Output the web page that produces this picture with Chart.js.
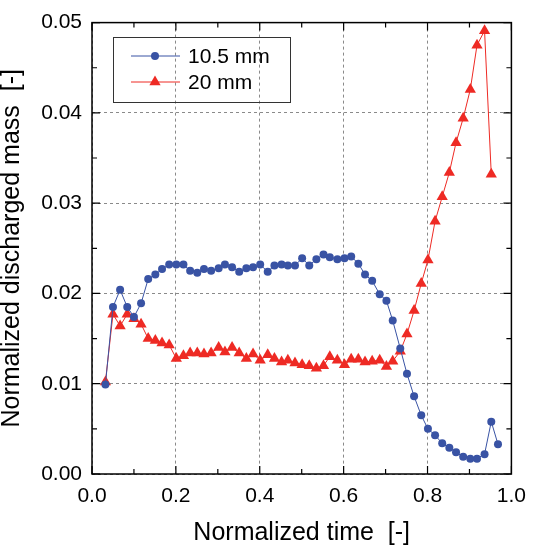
<!DOCTYPE html>
<html>
<head>
<meta charset="utf-8">
<script src="https://cdn.jsdelivr.net/npm/chart.js@4"></script>
<style>
  html, body { margin: 0; padding: 0; background: #fff; }
  #wrap { width: 536px; height: 547px; }
</style>
</head>
<body>
<div id="wrap"><canvas id="myChart" width="536" height="547"></canvas></div>
<script>
// normalized time of each sample (shared by both series)
var times = [0.032, 0.050, 0.067, 0.084, 0.100, 0.117, 0.134, 0.151, 0.167, 0.184,
             0.201, 0.218, 0.234, 0.251, 0.267, 0.284, 0.302, 0.317, 0.334, 0.351,
             0.368, 0.384, 0.401, 0.419, 0.435, 0.452, 0.467, 0.484, 0.501, 0.518,
             0.535, 0.552, 0.567, 0.585, 0.602, 0.618, 0.635, 0.651, 0.668, 0.686,
             0.702, 0.717, 0.735, 0.751, 0.768, 0.785, 0.801, 0.818, 0.835, 0.852,
             0.868, 0.885, 0.902, 0.918, 0.936, 0.952, 0.968];

var mass105 = [0.0099, 0.0185, 0.0204, 0.0185, 0.0174, 0.0189, 0.0216, 0.0221, 0.0227, 0.0232,
               0.0232, 0.0232, 0.0225, 0.0223, 0.0227, 0.0225, 0.0228, 0.0232, 0.0229, 0.0224,
               0.0228, 0.0229, 0.0232, 0.0224, 0.0231, 0.0232, 0.0231, 0.0231, 0.0239, 0.0231,
               0.0238, 0.0243, 0.0240, 0.0238, 0.0239, 0.0241, 0.0233, 0.0221, 0.0214, 0.0199,
               0.0192, 0.0170, 0.0139, 0.0111, 0.0086, 0.0065, 0.0050, 0.0043, 0.0034, 0.0029,
               0.0024, 0.0019, 0.0017, 0.0017, 0.0022, 0.0058, 0.0033];

var mass20 = [0.0102, 0.0177, 0.0164, 0.0177, 0.0172, 0.0166, 0.0150, 0.0148, 0.0145, 0.0143,
              0.0128, 0.0131, 0.0134, 0.0134, 0.0133, 0.0134, 0.0140, 0.0135, 0.0140, 0.0134,
              0.0128, 0.0133, 0.0126, 0.0132, 0.0128, 0.0124, 0.0126, 0.0123, 0.0121, 0.0120,
              0.0117, 0.0120, 0.0130, 0.0126, 0.0121, 0.0127, 0.0127, 0.0124, 0.0125, 0.0126,
              0.0119, 0.0125, 0.0136, 0.0155, 0.0181, 0.0211, 0.0237, 0.0280, 0.0307, 0.0334,
              0.0367, 0.0394, 0.0426, 0.0475, 0.0491, 0.0332];

var seriesLabels = ['10.5 mm', '20 mm'];
var xTicks = [0, 0.2, 0.4, 0.6, 0.8, 1.0];
var yTicks = [0, 0.01, 0.02, 0.03, 0.04, 0.05];

var BLUE = '#3953a4';
var RED = '#ee2a24';
var FONT = '"Liberation Sans", Arial, sans-serif';

function toPoints(xs, ys) {
    return ys.map(function (v, i) { return { x: xs[i], y: v }; });
}

// frame, inward ticks on all four sides, and the boxed legend
var framePlugin = {
    id: 'frame',
    afterDraw: function (chart) {
        var c = chart.ctx, a = chart.chartArea;
        var xs = chart.scales.x, ys = chart.scales.y;
        c.save();
        c.strokeStyle = '#000';
        c.lineWidth = 1.5;
        c.strokeRect(a.left, a.top, a.right - a.left, a.bottom - a.top);
        c.lineWidth = 1.2;
        c.beginPath();
        for (var t = 0; t <= 1.0001; t += 0.1) {
            var px = xs.getPixelForValue(t);
            var len = (Math.round(t * 10) % 2 === 0) ? 8 : 5;
            c.moveTo(px, a.bottom); c.lineTo(px, a.bottom - len);
            c.moveTo(px, a.top); c.lineTo(px, a.top + len);
        }
        for (var m = 0; m <= 0.05001; m += 0.005) {
            var py = ys.getPixelForValue(m);
            var len2 = (Math.round(m * 1000) % 10 === 0) ? 8 : 5;
            c.moveTo(a.left, py); c.lineTo(a.left + len2, py);
            c.moveTo(a.right, py); c.lineTo(a.right - len2, py);
        }
        c.stroke();

        // legend
        c.lineWidth = 1;
        c.strokeStyle = '#333';
        c.strokeRect(113.5, 37.5, 177, 65);
        var rows = [56, 82];
        chart.data.datasets.forEach(function (ds, i) {
            var y = rows[i];
            c.strokeStyle = ds.borderColor;
            c.lineWidth = 1;
            c.beginPath();
            c.moveTo(131, y); c.lineTo(180, y);
            c.stroke();
            c.fillStyle = ds.backgroundColor;
            c.beginPath();
            if (ds.pointStyle === 'triangle') {
                var r = 6.5;
                c.moveTo(155, y - r);
                c.lineTo(155 + r * 0.866, y + r * 0.5);
                c.lineTo(155 - r * 0.866, y + r * 0.5);
                c.closePath();
            } else {
                c.arc(155, y, 4, 0, Math.PI * 2);
            }
            c.fill();
            c.fillStyle = '#000';
            c.font = '21px ' + FONT;
            c.textBaseline = 'middle';
            c.textAlign = 'left';
            c.fillText(ds.label, 188, y + 1);
        });
        c.restore();
    }
};

var ctx = document.getElementById('myChart').getContext('2d');
var myChart = new Chart(ctx, {
    type: 'scatter',
    data: {
        datasets: [{
            label: seriesLabels[0],
            data: toPoints(times, mass105),
            showLine: true,
            borderColor: BLUE,
            backgroundColor: BLUE,
            borderWidth: 1,
            pointStyle: 'circle',
            pointRadius: 4,
            pointBorderWidth: 0
        }, {
            label: seriesLabels[1],
            data: toPoints(times, mass20),
            showLine: true,
            borderColor: RED,
            backgroundColor: RED,
            borderWidth: 1,
            pointStyle: 'triangle',
            pointRadius: 6.5,
            pointBorderWidth: 0
        }]
    },
    options: {
        responsive: false,
        animation: false,
        layout: { padding: { top: 20, right: 18, left: 0, bottom: 0 } },
        plugins: { legend: { display: false }, tooltip: { enabled: false } },
        scales: {
            x: {
                type: 'linear',
                min: 0, max: 1,
                afterFit: function (s) { s.height = 73; },
                afterBuildTicks: function (s) { s.ticks = xTicks.map(function (v) { return { value: v }; }); },
                border: { display: false, dash: [3, 3] },
                grid: { color: '#8a8a8a', lineWidth: 1, drawTicks: false },
                ticks: {
                    padding: 10,
                    color: '#000',
                    font: { family: FONT, size: 21 },
                    callback: function (v) { return v.toFixed(1); }
                },
                title: {
                    display: true,
                    text: 'Normalized time  [-]',
                    color: '#000',
                    font: { family: FONT, size: 25, lineHeight: 1 },
                    padding: { top: 0, bottom: 1 }
                }
            },
            y: {
                type: 'linear',
                min: 0, max: 0.05,
                afterFit: function (s) { s.width = 92; },
                afterBuildTicks: function (s) { s.ticks = yTicks.map(function (v) { return { value: v }; }); },
                border: { display: false, dash: [3, 3] },
                grid: { color: '#8a8a8a', lineWidth: 1, drawTicks: false },
                ticks: {
                    padding: 10,
                    color: '#000',
                    font: { family: FONT, size: 21 },
                    callback: function (v) { return v.toFixed(2); }
                },
                title: {
                    display: true,
                    text: 'Normalized discharged mass  [-]',
                    color: '#000',
                    font: { family: FONT, size: 25, lineHeight: 1 },
                    padding: { top: 0, bottom: 0 }
                }
            }
        }
    },
    plugins: [framePlugin]
});
</script>
</body>
</html>
